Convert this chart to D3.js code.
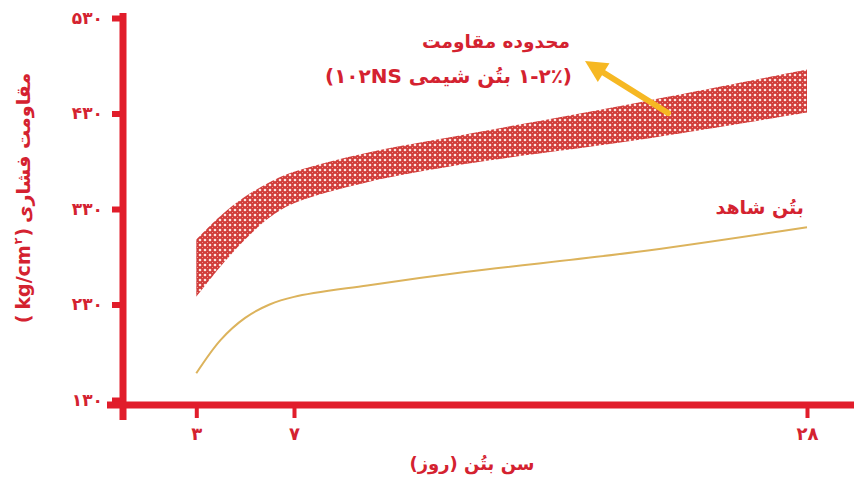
<!DOCTYPE html>
<html lang="fa">
<head>
<meta charset="utf-8">
<script src="https://cdn.jsdelivr.net/npm/d3@7"></script>
<style>
  html, body { margin: 0; padding: 0; background: #ffffff; }
  svg { display: block; }
  text { font-family: "DejaVu Sans", "Noto Sans", sans-serif; font-weight: bold; }
</style>
</head>
<body>
<svg id="chart" width="854" height="482"></svg>
<script>
// Concrete age in days
const days = [3, 4, 5, 6, 7, 10, 14, 21, 28];
// Strength range with the admixture (kg/cm²): lower and upper bounds
const bandLow  = [238, 270, 298, 321, 336, 358, 377, 402, 431];
const bandHigh = [298, 323, 343, 358, 369, 389, 408, 441, 476];
// Reference (control) concrete strength
const control  = [158, 193, 216, 230, 238, 250, 264, 285, 311];

const xTicks = [3, 7, 28];
const yTicks = [130, 230, 330, 430, 530];

// Y title pieces, laid out left to right along the rotated axis
const yTitleParts = [
  { t: "(", size: 19, dy: 0 },
  { t: "kg/cm", size: 19, dy: 0 },
  { t: "۲", size: 11, dy: -8 },
  { t: ")", size: 19, dy: 0 },
  { t: "مقاومت فشاری", size: 19, dy: 0 }
];
const xTitle = "سن بتُن (روز)";
const bandTitle1 = "محدوده مقاومت";
const bandTitle2 = "(۱-۲٪ بتُن شیمی ۱۰۲NS)";
const controlTitle = "بتُن شاهد";

const toFa = n => String(n).replace(/[0-9]/g, d => "۰۱۲۳۴۵۶۷۸۹"[d]);

const red = "#e11d2b";
const textRed = "#d42230";

const svg = d3.select("#chart");

const x = d3.scaleLinear().domain([0, 28]).range([123, 807]);
const y = d3.scaleLinear().domain([130, 530]).range([400, 18]);

// Hatched fill for the strength band
const defs = svg.append("defs");
const pat = defs.append("pattern")
  .attr("id", "hatch").attr("patternUnits", "userSpaceOnUse")
  .attr("width", 5).attr("height", 5);
pat.append("rect").attr("width", 5).attr("height", 5).attr("fill", "#d13c3a");
[[0,0],[5,0],[0,5],[5,5]].forEach(([cx, cy]) =>
  pat.append("circle").attr("cx", cx).attr("cy", cy).attr("r", 1.3).attr("fill", "#fbe6e2"));
pat.append("circle").attr("cx", 2.5).attr("cy", 2.5).attr("r", 0.55).attr("fill", "#f2a8a0");

const bandData = days.map((d, i) => ({ d, lo: bandLow[i], hi: bandHigh[i] }));
const area = d3.area()
  .x(p => x(p.d)).y0(p => y(p.lo)).y1(p => y(p.hi))
  .curve(d3.curveCatmullRom.alpha(0.5));
svg.append("path").datum(bandData)
  .attr("d", area).attr("fill", "url(#hatch)");

// Control concrete curve
const line = d3.line().x((d, i) => x(days[i])).y(v => y(v)).curve(d3.curveCatmullRom.alpha(0.5));
svg.append("path").datum(control)
  .attr("d", line).attr("fill", "none")
  .attr("stroke", "#dcb35c").attr("stroke-width", 2);

// Y axis
const yAxis = svg.append("g").attr("transform", `translate(${x(0)},0)`)
  .call(d3.axisLeft(y).tickValues(yTicks).tickSize(11).tickSizeOuter(0).tickFormat(toFa));
yAxis.select(".domain").remove();
yAxis.selectAll(".tick line").attr("stroke", red).attr("stroke-width", 6);
yAxis.selectAll(".tick text")
  .attr("x", -20).attr("fill", textRed).attr("font-size", 17)
  .style("font-family", "DejaVu Sans").style("font-weight", "bold");

// X axis
const xAxis = svg.append("g").attr("transform", "translate(0,405)")
  .call(d3.axisBottom(x).tickValues(xTicks).tickSize(13).tickSizeOuter(0).tickFormat(toFa));
xAxis.select(".domain").remove();
xAxis.selectAll(".tick line").attr("stroke", red).attr("stroke-width", 4);
xAxis.selectAll(".tick text")
  .attr("y", 22).attr("fill", textRed).attr("font-size", 18)
  .style("font-family", "DejaVu Sans").style("font-weight", "bold");

// Axis lines
svg.append("line").attr("x1", x(0)).attr("x2", x(0)).attr("y1", 13).attr("y2", 420)
  .attr("stroke", red).attr("stroke-width", 7);
svg.append("line").attr("x1", 107).attr("x2", 854).attr("y1", 405).attr("y2", 405)
  .attr("stroke", red).attr("stroke-width", 7);

// Y axis title: pieces placed one after another, then centred on the axis
const yt = svg.append("g");
let cursor = 0;
const gap = 5;
yTitleParts.forEach((p, i) => {
  const el = yt.append("text")
    .attr("x", cursor).attr("y", p.dy)
    .attr("fill", textRed).attr("font-size", p.size)
    .text(p.t);
  cursor += el.node().getComputedTextLength() + (i === 1 || i === 2 ? 1 : gap);
});
const totalLen = cursor - gap;
yt.attr("transform", `translate(30,${198 + totalLen / 2}) rotate(-90)`);

svg.append("text")
  .attr("x", 472).attr("y", 470).attr("text-anchor", "middle").attr("direction", "rtl")
  .attr("fill", textRed).attr("font-size", 18).text(xTitle);

// Band annotation
svg.append("text")
  .attr("x", 570).attr("y", 48).attr("text-anchor", "start").attr("direction", "rtl")
  .attr("fill", textRed).attr("font-size", 18.5).text(bandTitle1);
svg.append("text")
  .attr("x", 572).attr("y", 83).attr("text-anchor", "start").attr("direction", "rtl")
  .attr("fill", textRed).attr("font-size", 20).text(bandTitle2);

// Arrow pointing from the band to its label
const arrowFrom = [668, 113], arrowTo = [585, 61];
const ang = Math.atan2(arrowTo[1] - arrowFrom[1], arrowTo[0] - arrowFrom[0]);
const headLen = 22, headW = 11;
const bx = arrowTo[0] - headLen * Math.cos(ang), by = arrowTo[1] - headLen * Math.sin(ang);
svg.append("line")
  .attr("x1", arrowFrom[0]).attr("y1", arrowFrom[1]).attr("x2", bx).attr("y2", by)
  .attr("stroke", "#f6b823").attr("stroke-width", 6).attr("stroke-linecap", "round");
svg.append("path")
  .attr("d", d3.line()([
    arrowTo,
    [bx + headW * Math.sin(ang), by - headW * Math.cos(ang)],
    [bx - headW * Math.sin(ang), by + headW * Math.cos(ang)]
  ]) + "Z")
  .attr("fill", "#f6b823");

// Control curve label
svg.append("text")
  .attr("x", 804).attr("y", 214).attr("text-anchor", "start").attr("direction", "rtl")
  .attr("fill", textRed).attr("font-size", 19).text(controlTitle);
</script>
</body>
</html>
